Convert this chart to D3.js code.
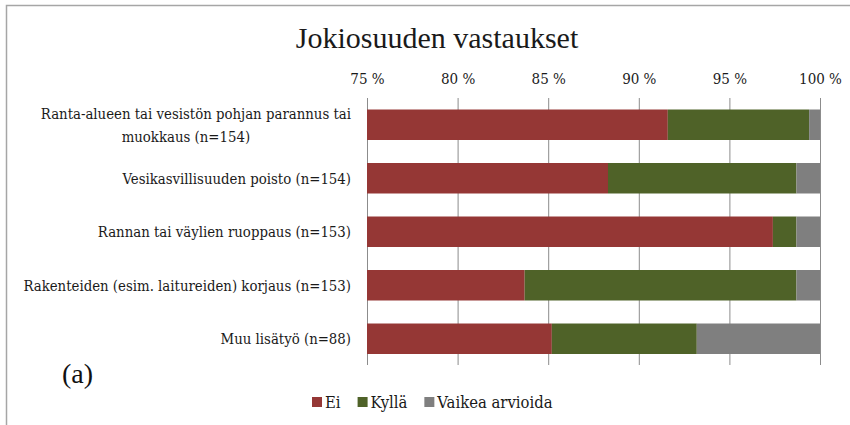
<!DOCTYPE html>
<html>
<head>
<meta charset="utf-8">
<script src="https://cdn.jsdelivr.net/npm/d3@7"></script>
<style>
  html, body { margin: 0; padding: 0; background: #fff; }
  svg { display: block; }
</style>
</head>
<body>
<svg id="chart" width="850" height="425"></svg>
<script>
// Response categories (rows, top to bottom)
const categories = [
  "Ranta-alueen tai vesistön pohjan parannus tai muokkaus (n=154)",
  "Vesikasvillisuuden poisto (n=154)",
  "Rannan tai väylien ruoppaus (n=153)",
  "Rakenteiden (esim. laitureiden) korjaus (n=153)",
  "Muu lisätyö (n=88)"
];
// Label lines as they wrap on the chart
const categoryLines = [
  ["Ranta-alueen tai vesistön pohjan parannus tai", "muokkaus (n=154)"],
  ["Vesikasvillisuuden  poisto (n=154)"],
  ["Rannan tai väylien ruoppaus (n=153)"],
  ["Rakenteiden (esim. laitureiden) korjaus (n=153)"],
  ["Muu lisätyö (n=88)"]
];

// Share of answers, percent
const seriesNames = ["Ei", "Kyllä", "Vaikea arvioida"];
const ei     = [91.6, 88.3, 97.4, 83.7, 85.2];
const kylla  = [7.8, 10.4, 1.3, 15.0, 8.0];
const vaikea = [0.6, 1.3, 1.3, 1.3, 6.8];

const tickValues = [75, 80, 85, 90, 95, 100];
const colors = ["#953735", "#4f6228", "#7f7f7f"];

const serifC = "'DejaVu Serif Condensed', 'Liberation Serif', serif";
const serif = "'Liberation Serif', serif";

const rows = categories.map((c, i) => ({
  category: c, "Ei": ei[i], "Kyllä": kylla[i], "Vaikea arvioida": vaikea[i]
}));

const svg = d3.select("#chart");

// outer frame
svg.append("path")
  .attr("d", "M6.5,425 V5.5 H850")
  .attr("fill", "none")
  .attr("stroke", "#a6a6a6")
  .attr("stroke-width", 1.5);

// title
svg.append("text")
  .attr("x", 437)
  .attr("y", 48)
  .attr("text-anchor", "middle")
  .attr("fill", "#1a1a1a")
  .style("font-family", serif)
  .style("font-size", "30px")
  .text("Jokiosuuden vastaukset");

const x = d3.scaleLinear().domain([75, 100]).range([367, 820]);
const y = d3.scaleBand()
  .domain(categories)
  .range([98, 365.5])
  .paddingInner(0.43)
  .paddingOuter(0.215);

// axis with gridlines
const axis = svg.append("g")
  .attr("transform", "translate(0,98)")
  .call(d3.axisTop(x)
    .tickValues(tickValues)
    .tickFormat(d => d + " %")
    .tickSizeInner(-(365 - 98))
    .tickSizeOuter(0)
    .tickPadding(14));
axis.select(".domain").remove();
axis.selectAll(".tick line").attr("stroke", "#8c8c8c").attr("stroke-width", 1);
axis.selectAll(".tick text")
  .attr("fill", "#1a1a1a")
  .style("font-size", "15px")
  .style("font-family", serifC);

// stacked bars
const stack = d3.stack().keys(seriesNames);
const layers = stack(rows);

svg.append("g")
  .selectAll("g")
  .data(layers)
  .join("g")
  .attr("fill", (d, i) => colors[i])
  .selectAll("rect")
  .data(d => d)
  .join("rect")
  .attr("x", d => x(Math.max(d[0], 75)))
  .attr("width", d => Math.max(0, x(Math.min(d[1], 100)) - x(Math.max(d[0], 75))))
  .attr("y", d => y(d.data.category))
  .attr("height", y.bandwidth());

// category labels
const labelX = 351;
const lineH = 23;
const labels = svg.append("g")
  .attr("fill", "#1a1a1a")
  .style("font-family", serifC)
  .style("font-size", "14.8px");
categories.forEach((c, i) => {
  const lines = categoryLines[i];
  const cy = y(c) + y.bandwidth() / 2;
  const top = cy - (lines.length - 1) * lineH / 2;
  const first = labels.append("text")
    .attr("x", labelX).attr("y", top)
    .attr("dominant-baseline", "central")
    .attr("text-anchor", "end")
    .text(lines[0]);
  if (lines.length > 1) {
    const w = first.node().getComputedTextLength();
    lines.slice(1).forEach((ln, k) => {
      labels.append("text")
        .attr("dominant-baseline", "central")
        .attr("x", labelX - w / 2 - 10)
        .attr("y", top + (k + 1) * lineH)
        .attr("text-anchor", "middle")
        .text(ln);
    });
  }
});

// panel tag
svg.append("text")
  .attr("x", 62)
  .attr("y", 383)
  .attr("fill", "#111")
  .style("font-family", serif)
  .style("font-size", "28px")
  .text("(a)");

// legend
const legend = svg.append("g").attr("transform", "translate(312,402)");
let lx = 0;
seriesNames.forEach((name, i) => {
  const g = legend.append("g").attr("transform", `translate(${lx},0)`);
  g.append("rect")
    .attr("x", 0).attr("y", -5)
    .attr("width", 10).attr("height", 10)
    .attr("fill", colors[i]);
  const t = g.append("text")
    .attr("x", 13)
    .attr("dominant-baseline", "central")
    .attr("fill", "#1a1a1a")
    .style("font-family", serifC)
    .style("font-size", "16.5px")
    .text(name);
  lx += 13 + t.node().getComputedTextLength() + 17;
});
</script>
</body>
</html>
